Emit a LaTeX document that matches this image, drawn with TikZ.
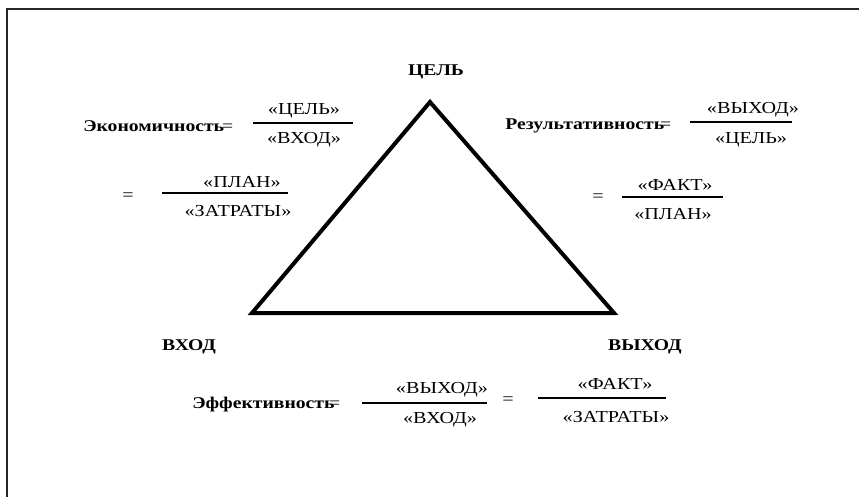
\documentclass[tikz,border=0pt]{standalone}
\usepackage{fontspec}
\setmainfont{Liberation Serif}[FakeStretch=1.2]
\usetikzlibrary{positioning}
\tikzset{
  lbl/.style={font=\fontsize{12.3}{14}\selectfont\bfseries, inner sep=0pt},
  term/.style={inner sep=0pt},
  fracbar/.style={line width=0.9pt},
  side/.style={line width=3pt, line join=miter},
}

\begin{document}
\begin{tikzpicture}[x=0.75pt, y=-0.75pt, font=\fontsize{12.6}{14}\selectfont]
  \useasboundingbox (0,0) rectangle (859,497);
  % Frame
  \draw[line width=1.3pt, black!85] (7,497) -- (7,9) -- (859,9);

  % Triangle
  \coordinate (apex) at (430,102);
  \coordinate (in) at (252,313);
  \coordinate (out) at (614,313);
  \draw[side] (apex) -- (out) -- (in) -- cycle;

  % Vertices
  \node[lbl] (goal) at (436,72) {ЦЕЛЬ};
  \node[lbl] (input) at (189,347) {ВХОД};
  \node[lbl] (output) at (645,347) {ВЫХОД};

  % Economy
  \node[lbl, anchor=west] (econ) at (83,126) {Экономичность\kern-1.5pt{\mdseries=}};
  \node[term] (econnum) at (304,111) {«ЦЕЛЬ»};
  \node[term] (econden) at (304,140) {«ВХОД»};
  \draw[fracbar] (253,123) -- (353,123);
  \node[term] (econeq) at (128,197) {=};
  \node[term] (econnum2) at (242,182) {«ПЛАН»};
  \node[term] (econden2) at (238,211) {«ЗАТРАТЫ»};
  \draw[fracbar] (162,193) -- (288,193);

  % Result
  \node[lbl, anchor=west] (res) at (505,126) {Результативность\kern-3pt{\mdseries=}};
  \node[term] (resnum) at (753,110) {«ВЫХОД»};
  \node[term] (resden) at (751,140) {«ЦЕЛЬ»};
  \draw[fracbar] (690,122) -- (792,122);
  \node[term] (reseq) at (598,198) {=};
  \node[term] (resnum2) at (675,185) {«ФАКТ»};
  \node[term] (resden2) at (673,214) {«ПЛАН»};
  \draw[fracbar] (622,197) -- (723,197);

  % Efficiency
  \node[lbl, anchor=west] (eff) at (192,405) {Эффективность\kern-4pt{\mdseries=}};
  \node[term] (effnum) at (442,390) {«ВЫХОД»};
  \node[term] (effden) at (440,420) {«ВХОД»};
  \draw[fracbar] (362,403) -- (487,403);
  \node[term] (effeq) at (508,401) {=};
  \node[term] (effnum2) at (615,384) {«ФАКТ»};
  \node[term] (effden2) at (616,417) {«ЗАТРАТЫ»};
  \draw[fracbar] (538,398) -- (666,398);
\end{tikzpicture}
\end{document}
